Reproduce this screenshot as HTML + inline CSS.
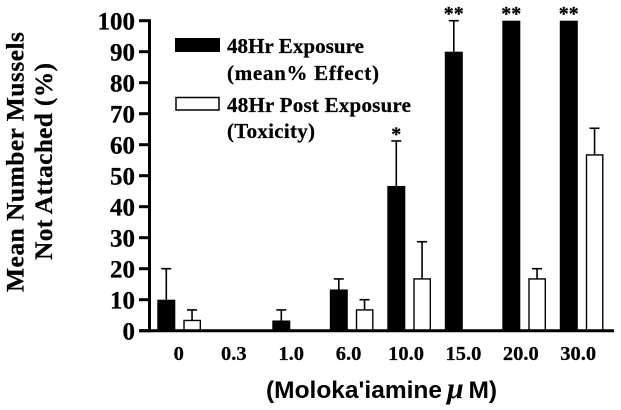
<!DOCTYPE html>
<html>
<head>
<meta charset="utf-8">
<style>
html,body{margin:0;padding:0;background:#fff;}
svg{display:block;}
text{font-family:"Liberation Serif",serif;font-weight:bold;fill:#000;stroke:#000;stroke-width:0.25;}
</style>
</head>
<body>
<svg id="chart" width="621" height="410" viewBox="0 0 621 410" xmlns="http://www.w3.org/2000/svg">
  <g>
    <text transform="translate(23.5 162) rotate(-90)" text-anchor="middle" font-size="25.5" textLength="260">Mean Number Mussels</text>
    <text transform="translate(52 161.5) rotate(-90)" text-anchor="middle" font-size="25.5" textLength="197">Not Attached (%)</text>
  </g>
  <g>
    <rect x="175" y="38" width="45" height="14" fill="#000"/>
    <text x="227" y="53" font-size="21" textLength="137">48Hr Exposure</text>
    <text x="227" y="80" font-size="21" textLength="152">(mean% Effect)</text>
    <rect x="176" y="97.5" width="43" height="12.5" fill="#fff" stroke="#000" stroke-width="1.5"/>
    <text x="227" y="112" font-size="21" textLength="184">48Hr Post Exposure</text>
    <text x="227" y="138" font-size="21" textLength="88">(Toxicity)</text>
  </g>
  <g id="marks"></g>
  <g id="axes"></g>
  <text x="266" y="398" font-size="24.5" style="font-family:'Liberation Sans',sans-serif;stroke-width:0">(Moloka'iamine<tspan x="447" y="398" style="font-family:'Liberation Serif',serif;font-style:italic" font-size="30">μ</tspan><tspan x="468.5" y="398">M)</tspan></text>
</svg>
<script>
var categories = ["0","0.3","1.0","6.0","10.0","15.0","20.0","30.0"];
var exposureValues = [10,0,3.3,13.3,46.7,90,100,100];
var exposureErrors = [10,0,3.4,3.4,14.5,10,0,0];
var postValues = [3.3,0,0,6.7,16.7,0,16.7,56.7];
var postErrors = [3.4,0,0,3.3,12,0,3.3,8.6];
var significance = ["","","","","*","**","**","**"];
var yTicks = [0,10,20,30,40,50,60,70,80,90,100];

var svg = document.getElementById('chart');
var marks = document.getElementById('marks');
var axes = document.getElementById('axes');
var NS = 'http://www.w3.org/2000/svg';

function yScale(v){ return 330.7 - v * 3.1; }
function xScale(i){ return 157.3 + i * 57.5; }

function make(parent, tag, attrs){
  var el = document.createElementNS(NS, tag);
  for (var k in attrs) el.setAttribute(k, attrs[k]);
  parent.appendChild(el);
  return el;
}

function drawError(x, v, e, series, i){
  if (e <= 0) return;
  var top = yScale(v + e);
  var stem = make(marks, 'line', {x1:x, x2:x, y1:yScale(v), y2:top, stroke:'#000', 'stroke-width':1.6});
  
  
  var cap = make(marks, 'line', {x1:x-5, x2:x+5, y1:top, y2:top, stroke:'#000', 'stroke-width':1.6});
  
  
}

categories.forEach(function(cat, i){
  var bx = xScale(i);
  var wx = bx + 26;
  drawError(bx + 9, exposureValues[i], exposureErrors[i], 'exposure', i);
  drawError(wx + 8.75, postValues[i], postErrors[i], 'post', i);
  if (exposureValues[i] > 0){
    var b = make(marks, 'rect', {x:bx, y:yScale(exposureValues[i]), width:18, height:yScale(0)-yScale(exposureValues[i]), fill:'#000'});
    
    
  }
  if (postValues[i] > 0){
    var w = make(marks, 'rect', {x:wx+0.7, y:yScale(postValues[i]), width:16.3, height:yScale(0)-yScale(postValues[i]), fill:'#fff', stroke:'#000', 'stroke-width':1.4});
    
    
  }
  if (significance[i]){
    var top = exposureValues[i] + exposureErrors[i];
    var s = make(marks, 'text', {x:bx + 9, y:yScale(top) - 0.5, 'text-anchor':'middle', 'font-size':20});
    s.textContent = significance[i];
    
    
  }
  var lab = make(axes, 'text', {x:176.4 + i * 57.4 + (i === 0 ? 2.3 : 0), y:360, 'text-anchor':'middle', 'font-size':20.5});
  lab.textContent = cat;
  
  
});

var yAxisLine = make(axes, 'line', {x1:149.5, x2:149.5, y1:yScale(100)-1.5, y2:yScale(0)+1.5, stroke:'#000', 'stroke-width':3});


var xAxisLine = make(axes, 'line', {x1:139, x2:614, y1:yScale(0), y2:yScale(0), stroke:'#000', 'stroke-width':3});



yTicks.forEach(function(t){
  var tick = make(axes, 'line', {x1:139, x2:149, y1:yScale(t), y2:yScale(t), stroke:'#000', 'stroke-width':3});
  
  
  var lab = make(axes, 'text', {x:135, y:yScale(t) + 9, 'text-anchor':'end', 'font-size':25});
  lab.textContent = t;
  
  
});
</script>
</body>
</html>
